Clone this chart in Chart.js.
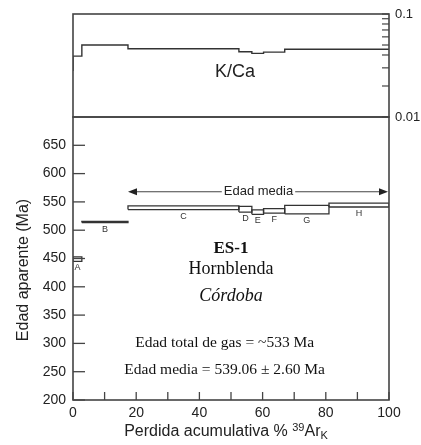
<!DOCTYPE html>
<html>
<head>
<meta charset="utf-8">
<script src="https://cdn.jsdelivr.net/npm/chart.js@4.4.1/dist/chart.umd.min.js"></script>
<style>
  body { margin: 0; background: #fff; }
  #wrap { position: relative; width: 421px; height: 445px; }
  #wrap canvas { position: absolute; left: 0; top: 0; }
</style>
</head>
<body>
<div id="wrap">
  <canvas id="ages" width="421" height="445"></canvas>
  <canvas id="kca" width="421" height="445"></canvas>
</div>
<script>
// datos del espectro (pasos A-H)
var stepNames = ['A', 'B', 'C', 'D', 'E', 'F', 'G', 'H'];
var stepEdges = [0, 2.8, 17.4, 52.5, 56.6, 60.3, 67, 81, 100];   // % 39Ar acumulado
var ageLow    = [445, 513.5, 536.5, 532, 528, 530, 529, 541];
var ageHigh   = [453, 515.5, 543, 542, 536, 538, 544, 548];
var kcaValues = [0.028, 0.039, 0.050, 0.046, 0.043, 0.0415, 0.0426, 0.0454];

var ageTicks = [200, 250, 300, 350, 400, 450, 500, 550, 600, 650];
var xTicks   = [0, 10, 20, 30, 40, 50, 60, 70, 80, 90, 100];
var kcaTicks = [0.01, 0.02, 0.03, 0.04, 0.05, 0.06, 0.07, 0.08, 0.09, 0.1];

var mediaRange = [17.4, 100];
var mediaAge = 568;

var SANS = '"Liberation Sans", Arial, sans-serif';
var SERIF = '"Liberation Serif", "Times New Roman", serif';
var INK = '#333';

// cajas de edad como poligonos cerrados
var boxSets = stepNames.map(function(n, i) {
	var x0 = stepEdges[i], x1 = stepEdges[i + 1];
	return {
		label: n,
		data: [
			{x: x0, y: ageLow[i]}, {x: x1, y: ageLow[i]},
			{x: x1, y: ageHigh[i]}, {x: x0, y: ageHigh[i]}, {x: x0, y: ageLow[i]}
		],
		showLine: true,
		borderColor: INK,
		borderWidth: 1.3,
		pointRadius: 0,
		tension: 0
	};
});

function line(ctx, x0, y0, x1, y1) {
	ctx.beginPath();
	ctx.moveTo(x0, y0);
	ctx.lineTo(x1, y1);
	ctx.stroke();
}

function arrowHead(ctx, x, y, dir) {
	ctx.beginPath();
	ctx.moveTo(x, y);
	ctx.lineTo(x - dir * 9, y - 3.5);
	ctx.lineTo(x - dir * 9, y + 3.5);
	ctx.closePath();
	ctx.fill();
}

// ajusta el padding hasta que el area quede donde va
function pinArea(chart, want) {
	var p = chart.options.layout.padding;
	for (var i = 0; i < 3; i++) {
		var a = chart.chartArea;
		p.top += want.top - a.top;
		p.bottom += a.bottom - want.bottom;
		p.left += want.left - a.left;
		p.right += a.right - want.right;
		chart.update();
	}
}

var agePlugin = {
	id: 'ageDeco',
	afterDraw: function(chart) {
		var ctx = chart.ctx, a = chart.chartArea;
		var xs = chart.scales.x, ys = chart.scales.y;
		ctx.save();
		ctx.strokeStyle = '#444';
		ctx.lineWidth = 1.6;
		ctx.strokeRect(a.left, a.top, a.right - a.left, a.bottom - a.top);

		// marcas hacia adentro
		ctx.lineWidth = 1.3;
		ageTicks.forEach(function(v) {
			var py = ys.getPixelForValue(v);
			line(ctx, a.left, py, a.left + 12, py);
		});
		xTicks.forEach(function(v) {
			var px = xs.getPixelForValue(v);
			line(ctx, px, a.bottom, px, a.bottom - 8);
		});

		// letras de los pasos
		ctx.fillStyle = INK;
		ctx.font = '9px ' + SANS;
		ctx.textAlign = 'center';
		ctx.textBaseline = 'top';
		stepNames.forEach(function(n, i) {
			var px = xs.getPixelForValue((stepEdges[i] + stepEdges[i + 1]) / 2);
			var py = ys.getPixelForValue(ageLow[i]) + 2;
			ctx.fillText(n, px, py);
		});

		// flecha edad media
		var x0 = xs.getPixelForValue(mediaRange[0]);
		var x1 = xs.getPixelForValue(mediaRange[1]);
		var yArr = ys.getPixelForValue(mediaAge);
		var xm = (x0 + x1) / 2;
		ctx.font = '13px ' + SANS;
		ctx.textBaseline = 'middle';
		var tw = ctx.measureText('Edad media').width;
		ctx.lineWidth = 1.1;
		line(ctx, x0 + 4, yArr, xm - tw / 2 - 2, yArr);
		line(ctx, xm + tw / 2 + 2, yArr, x1 - 4, yArr);
		ctx.fillStyle = '#222';
		arrowHead(ctx, x0, yArr, -1);
		arrowHead(ctx, x1 - 1, yArr, 1);
		ctx.fillText('Edad media', xm, yArr);

		// textos de la muestra
		var cx = xs.getPixelForValue(50);
		ctx.fillStyle = '#111';
		ctx.font = 'bold 17px ' + SERIF;
		ctx.fillText('ES-1', cx, ys.getPixelForValue(467));
		ctx.font = '18px ' + SERIF;
		ctx.fillText('Hornblenda', cx, ys.getPixelForValue(431));
		ctx.font = 'italic 18px ' + SERIF;
		ctx.fillText('Córdoba', cx, ys.getPixelForValue(383));
		cx = xs.getPixelForValue(48);
		ctx.font = '15.5px ' + SERIF;
		ctx.fillText('Edad total de gas = ~533 Ma', cx, ys.getPixelForValue(301));
		ctx.fillText('Edad media = 539.06 ± 2.60 Ma', cx, ys.getPixelForValue(253));

		// titulos de ejes
		ctx.fillStyle = '#222';
		ctx.font = '16px ' + SANS;
		ctx.save();
		ctx.translate(24, 270);
		ctx.rotate(-Math.PI / 2);
		ctx.fillText('Edad aparente (Ma)', 0, 0);
		ctx.restore();

		var t1 = 'Perdida acumulativa % ', t2 = '39', t3 = 'Ar', t4 = 'K';
		ctx.font = '16px ' + SANS;
		var w1 = ctx.measureText(t1).width, w3 = ctx.measureText(t3).width;
		ctx.font = '11px ' + SANS;
		var w2 = ctx.measureText(t2).width, w4 = ctx.measureText(t4).width;
		var tx = 226 - (w1 + w2 + w3 + w4) / 2, ty = 432;
		ctx.textAlign = 'left';
		ctx.font = '16px ' + SANS;
		ctx.fillText(t1, tx, ty);
		ctx.fillText(t3, tx + w1 + w2, ty);
		ctx.font = '11px ' + SANS;
		ctx.fillText(t2, tx + w1, ty - 4);
		ctx.fillText(t4, tx + w1 + w2 + w3, ty + 4);
		ctx.restore();
	}
};

var kcaPlugin = {
	id: 'kcaDeco',
	afterDraw: function(chart) {
		var ctx = chart.ctx, a = chart.chartArea;
		var xs = chart.scales.x, ys = chart.scales.y;
		ctx.save();
		ctx.strokeStyle = '#444';
		ctx.lineWidth = 1.6;
		ctx.strokeRect(a.left, a.top, a.right - a.left, a.bottom - a.top);
		ctx.lineWidth = 1.2;
		kcaTicks.forEach(function(v) {
			var py = ys.getPixelForValue(v);
			line(ctx, a.right, py, a.right - 7, py);
		});
		ctx.fillStyle = '#222';
		ctx.font = '18px ' + SANS;
		ctx.textAlign = 'center';
		ctx.textBaseline = 'middle';
		ctx.fillText('K/Ca', xs.getPixelForValue(51.3), ys.getPixelForValue(0.0274));
		ctx.restore();
	}
};

var ctxAges = document.getElementById('ages').getContext('2d');
var ageChart = new Chart(ctxAges, {
	type: 'scatter',
	data: { datasets: boxSets },
	options: {
		responsive: false,
		animation: false,
		layout: { padding: { top: 117, right: 32, left: 0, bottom: 0 } },
		plugins: { legend: { display: false }, tooltip: { enabled: false } },
		scales: {
			x: {
				type: 'linear', min: 0, max: 100,
				grid: { display: false, drawTicks: false },
				border: { display: false },
				afterFit: function(s) { s.height = 45; },
				afterBuildTicks: function(s) {
					s.ticks = xTicks.map(function(v) { return {value: v}; });
				},
				ticks: {
					padding: 5, autoSkip: false, maxRotation: 0,
					color: '#222', font: { family: SANS, size: 14 },
					callback: function(v) { return v % 20 === 0 ? v : ''; }
				}
			},
			y: {
				type: 'linear', min: 200, max: 700,
				grid: { display: false, drawTicks: false },
				border: { display: false },
				afterFit: function(s) { s.width = 73; },
				afterBuildTicks: function(s) {
					s.ticks = ageTicks.map(function(v) { return {value: v}; });
				},
				ticks: {
					padding: 7, autoSkip: false,
					color: '#222', font: { family: SANS, size: 14 }
				}
			}
		}
	},
	plugins: [agePlugin]
});
pinArea(ageChart, {left: 73, top: 117, right: 389, bottom: 400});

var kcaPoints = kcaValues.map(function(v, i) { return {x: stepEdges[i], y: v}; });
kcaPoints.push({x: 100, y: kcaValues[kcaValues.length - 1]});

var ctxKca = document.getElementById('kca').getContext('2d');
var kcaChart = new Chart(ctxKca, {
	type: 'scatter',
	data: {
		datasets: [{
			data: kcaPoints,
			showLine: true,
			stepped: 'after',
			borderColor: INK,
			borderWidth: 1.4,
			pointRadius: 0
		}]
	},
	options: {
		responsive: false,
		animation: false,
		layout: { padding: { top: 14, right: 0, left: 73, bottom: 328 } },
		plugins: { legend: { display: false }, tooltip: { enabled: false } },
		scales: {
			x: { type: 'linear', min: 0, max: 100, display: false },
			y: {
				type: 'logarithmic', position: 'right', min: 0.01, max: 0.1,
				grid: { display: false, drawTicks: false },
				border: { display: false },
				afterFit: function(s) { s.width = 32; },
				afterBuildTicks: function(s) {
					s.ticks = kcaTicks.map(function(v) { return {value: v}; });
				},
				ticks: {
					padding: 6, autoSkip: false,
					color: '#222', font: { family: SANS, size: 13 },
					callback: function(v) {
						if (Math.abs(v - 0.1) < 1e-9) return '0.1';
						if (Math.abs(v - 0.01) < 1e-9) return '0.01';
						return '';
					}
				}
			}
		}
	},
	plugins: [kcaPlugin]
});
pinArea(kcaChart, {left: 73, top: 14, right: 389, bottom: 117});
</script>
</body>
</html>
